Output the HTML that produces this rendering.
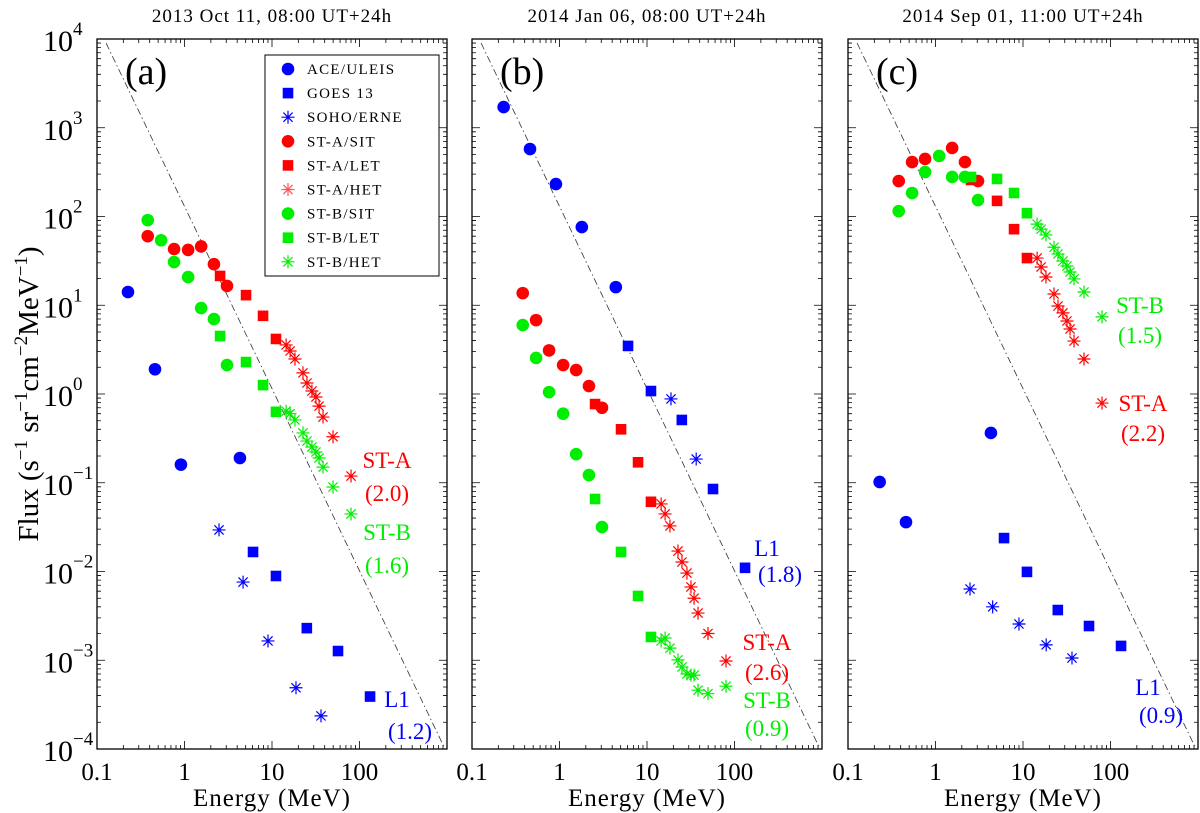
<!DOCTYPE html>
<html><head><meta charset="utf-8"><title>Energy spectra</title>
<style>
html,body{margin:0;padding:0;background:#fff;}
svg{display:block;}
svg text{font-family:"Liberation Serif","DejaVu Serif",serif;}
</style></head>
<body>
<svg id="chart" width="1200" height="813" viewBox="0 0 1200 813" xmlns="http://www.w3.org/2000/svg" font-family="Liberation Serif, DejaVu Serif, serif"></svg>
<script>
// ---------- DATA ----------
const panelTitles = ["2013 Oct 11, 08:00 UT+24h","2014 Jan 06, 08:00 UT+24h","2014 Sep 01, 11:00 UT+24h"];
const panelLetters = ["(a)","(b)","(c)"];
const xTickValues = [0.1,1,10,100];
const xTickLabels = ["0.1","1","10","100"];
const yTickExps = [-4,-3,-2,-1,0,1,2,3,4];
const refLineE = [0.127,950];
const refLineF = [9000,1e-4];

// panel (a)
const aAceE=[0.226,0.46,0.91,4.3];         const aAceF=[14.1,1.9,0.16,0.19];
const aGoesE=[6.07,11.1,25,56.8,132];      const aGoesF=[0.0166,0.0089,0.0023,0.00127,0.00039];
const aSohoE=[2.48,4.67,9.0,18.8,36.3];    const aSohoF=[0.0294,0.0076,0.00165,0.00049,0.000236];
const aSitAE=[0.38,0.76,1.1,1.55,2.17,3.06]; const aSitAF=[60,43,42,46,29,16.5];
const aLetAE=[2.55,5.05,7.9,11.1];         const aLetAF=[21.4,13.0,7.6,4.17];
const hetE=[14.5,16.1,18.3,22.6,25.1,28.6,31.8,34.5,38.3,49.8,80];
const aHetAF=[3.57,3.05,2.48,1.73,1.33,1.08,0.925,0.73,0.55,0.33,0.119];
const aSitBE=[0.38,0.54,0.76,1.1,1.55,2.17,3.06]; const aSitBF=[91,54,30.7,20.8,9.3,7.0,2.12];
const aLetBE=[2.55,5.05,7.9,11.1];         const aLetBF=[4.5,2.29,1.26,0.63];
const aHetBF=[0.64,0.60,0.51,0.364,0.295,0.253,0.222,0.19,0.15,0.0895,0.0445];

// panel (b)
const bAceE=[0.23,0.46,0.91,1.8,4.4];      const bAceF=[1710,576,232,76,16];
const bGoesE=[6.07,11.1,25,56.8,132];      const bGoesF=[3.48,1.08,0.51,0.085,0.011];
const bSohoE=[18.8,36.5];                  const bSohoF=[0.88,0.185];
const bSitAE=[0.38,0.54,0.76,1.1,1.55,2.17,3.06]; const bSitAF=[13.7,6.8,3.1,2.12,1.86,1.23,0.70];
const bLetAE=[2.55,5.05,7.9,11.1];         const bLetAF=[0.77,0.40,0.17,0.061];
const bHetAF=[0.0577,0.0445,0.0326,0.017,0.0128,0.0096,0.0067,0.0050,0.0034,0.0020,0.00098];
const bSitBE=[0.38,0.54,0.76,1.1,1.55,2.17,3.06]; const bSitBF=[5.98,2.55,1.05,0.60,0.21,0.122,0.0317];
const bLetBE=[2.55,5.05,7.9,11.1];         const bLetBF=[0.0656,0.0166,0.0053,0.00183];
const bHetBF=[0.00165,0.00178,0.00137,0.00101,0.00084,0.0007,0.00068,0.00068,0.00046,0.00042,0.00051];

// panel (c)
const cAceE=[0.23,0.46,4.3];               const cAceF=[0.102,0.036,0.364];
const cGoesE=[6.07,11.1,25,56.8,132];      const cGoesF=[0.0238,0.0099,0.00368,0.00243,0.00145];
const cSohoE=[2.48,4.5,9.0,18.4,36.3];     const cSohoF=[0.00635,0.004,0.00256,0.00149,0.00106];
const cSitAE=[0.38,0.54,0.76,1.55,2.17,3.06]; const cSitAF=[251,411,445,592,411,251];
const cLetAE=[2.55,5.05,7.9,11.1];         const cLetAF=[258,150,72,34];
const cHetAF=[34,27,20.8,13.4,9.8,8.2,6.65,5.4,3.95,2.48,0.79];
const cSitBE=[0.38,0.54,0.76,1.1,1.55,2.17,3.06]; const cSitBF=[115,184,317,481,279,279,153];
const cLetBE=[2.55,5.05,7.9,11.1];         const cLetBF=[279,265,184,109];
const cHetBF=[82,72,62,45,37.8,31.5,27.7,23.7,19.8,14.1,7.4];

// ---------- LAYOUT ----------
const NS="http://www.w3.org/2000/svg";
const svg=document.getElementById('chart');
const FONT='"Liberation Serif", "DejaVu Serif", serif';
const lefts=[97,472,848], PW=350, TOP=39, BOT=749;
const BLUE="#0000ff", RED="#ff0000", GREEN="#00ee00";
function xs(p,E){return lefts[p]+PW*(Math.log10(E)+1)/4;}
function ys(F){return BOT-(BOT-TOP)*(Math.log10(F)+4)/8;}
function mk(tag,attrs,parent){const e=document.createElementNS(NS,tag);for(const k in attrs)e.setAttribute(k,attrs[k]);if(tag==='text')e.style.fontFamily=FONT;(parent||svg).appendChild(e);return e;}

function drawMarker(g,type,x,y,color){
  let e;
  if(type==='circle'){e=mk('circle',{cx:x,cy:y,r:6.3,fill:color},g);}
  else if(type==='square'){e=mk('rect',{x:x-5.3,y:y-5.3,width:10.6,height:10.6,fill:color},g);}
  else{const r=6.5,d=4.6;e=mk('path',{d:`M${x-r},${y}H${x+r}M${x},${y-r}V${y+r}M${x-d},${y-d}L${x+d},${y+d}M${x-d},${y+d}L${x+d},${y-d}`,stroke:color,'stroke-width':1.2,fill:'none'},g);}
  return e;
}
function series(p,name,type,color,E,F){
  const g=mk('g',{});
  
  
  for(let i=0;i<E.length;i++){
    const m=drawMarker(g,type,xs(p,E[i]),ys(F[i]),color);
    
    
  }
}
function text(x,y,str,size,color,anchor,name,ls){
  const t=mk('text',{x:x,y:y,'font-size':size,fill:color||'#000','text-anchor':anchor||'start'});
  if(ls)t.setAttribute('letter-spacing',ls);
  t.textContent=str;
  
  
  return t;
}

for(let p=0;p<3;p++){
  const L=lefts[p],R=L+PW;
  const frame=mk('rect',{x:L,y:TOP,width:PW,height:BOT-TOP,fill:'none',stroke:'#000','stroke-width':1.3});
  
  
  let d='';
  for(let e=-4;e<4;e++){for(let m=1;m<10;m++){const y=ys(m*Math.pow(10,e));const len=m===1?8:4;d+=`M${L},${y}h${len}M${R},${y}h${-len}`;}}
  for(let e=-1;e<3;e++){for(let m=1;m<10;m++){const x=xs(p,m*Math.pow(10,e));const len=m===1?8:4;d+=`M${x},${BOT}v${-len}M${x},${TOP}v${len}`;}}
  const tk=mk('path',{d:d,stroke:'#000','stroke-width':0.8,fill:'none'});
  
  
  for(let i=0;i<xTickValues.length;i++){
    text(xs(p,xTickValues[i]),780,xTickLabels[i],25,'#000','middle','x-tick-label');
  }
  text(L+PW/2,806,'Energy (MeV)',25,'#000','middle','x-axis-title','1');
  text(L+PW/2,22,panelTitles[p],19,'#000','middle','panel-title','1');
  text(L+28,84,panelLetters[p],38,'#000','start','panel-letter');
  const rl=mk('line',{x1:xs(p,refLineE[0]),y1:ys(refLineF[0]),x2:xs(p,refLineE[1]),y2:ys(refLineF[1]),stroke:'#333','stroke-width':0.8,'stroke-dasharray':'7,3,1.5,3'});
  
  
}
for(let i=0;i<yTickExps.length;i++){
  const y=ys(Math.pow(10,yTickExps[i]));
  const t=mk('text',{x:73,y:y+12,'font-size':30,'text-anchor':'end'});
  t.textContent='10';
  
  
  const s=mk('text',{x:73,y:y-4,'font-size':19,'text-anchor':'start'});
  s.textContent=yTickExps[i]<0?('\u2212'+(-yTickExps[i])):String(yTickExps[i]);
  
  
}
const yt=mk('text',{x:0,y:0,'font-size':29,'text-anchor':'middle',transform:'translate(38,394) rotate(-90)'});


yt.innerHTML='Flux (s<tspan dy="-11" font-size="19">\u22121</tspan><tspan dy="11"> sr</tspan><tspan dy="-11" font-size="19">\u22121</tspan><tspan dy="11">cm</tspan><tspan dy="-11" font-size="19">\u22122</tspan><tspan dy="11">MeV</tspan><tspan dy="-11" font-size="19">\u22121</tspan><tspan dy="11">)</tspan>';

const P=[
 [aAceE,aAceF,aGoesE,aGoesF,aSohoE,aSohoF,aSitAE,aSitAF,aLetAE,aLetAF,aHetAF,aSitBE,aSitBF,aLetBE,aLetBF,aHetBF],
 [bAceE,bAceF,bGoesE,bGoesF,bSohoE,bSohoF,bSitAE,bSitAF,bLetAE,bLetAF,bHetAF,bSitBE,bSitBF,bLetBE,bLetBF,bHetBF],
 [cAceE,cAceF,cGoesE,cGoesF,cSohoE,cSohoF,cSitAE,cSitAF,cLetAE,cLetAF,cHetAF,cSitBE,cSitBF,cLetBE,cLetBF,cHetBF]];
for(let p=0;p<3;p++){
  const s=P[p];
  series(p,'ace-uleis','circle',BLUE,s[0],s[1]);
  series(p,'goes13','square',BLUE,s[2],s[3]);
  series(p,'soho-erne','star',BLUE,s[4],s[5]);
  series(p,'sta-sit','circle',RED,s[6],s[7]);
  series(p,'sta-let','square',RED,s[8],s[9]);
  series(p,'sta-het','star',RED,hetE,s[10]);
  series(p,'stb-sit','circle',GREEN,s[11],s[12]);
  series(p,'stb-let','square',GREEN,s[13],s[14]);
  series(p,'stb-het','star',GREEN,hetE,s[15]);
}

const lg=mk('g',{});


mk('rect',{x:265,y:55,width:174,height:221,fill:'#fff',stroke:'#000','stroke-width':1},lg);
const legNames=["ACE/ULEIS","GOES 13","SOHO/ERNE","ST-A/SIT","ST-A/LET","ST-A/HET","ST-B/SIT","ST-B/LET","ST-B/HET"];
const legTypes=['circle','square','star','circle','square','star','circle','square','star'];
const legColors=[BLUE,BLUE,BLUE,RED,RED,"#ff5555",GREEN,GREEN,GREEN];
for(let i=0;i<legNames.length;i++){
  const y=69+i*24.1;
  const m=drawMarker(lg,legTypes[i],288,y,legColors[i]);
  
  
  const t=mk('text',{x:307,y:y+5,'font-size':15,'letter-spacing':'1.3'},lg);
  t.textContent=legNames[i];
  
  
}

text(387,468,'ST-A',23,RED,'middle','annot-sta-a');
text(387,501,'(2.0)',23,RED,'middle','annot-sta-a-index');
text(387,540,'ST-B',23,GREEN,'middle','annot-stb-a');
text(387,573,'(1.6)',23,GREEN,'middle','annot-stb-a-index');
text(397,707,'L1',23,BLUE,'middle','annot-l1-a');
text(410,739,'(1.2)',23,BLUE,'middle','annot-l1-a-index');

text(767,556,'L1',23,BLUE,'middle','annot-l1-b');
text(780,582,'(1.8)',23,BLUE,'middle','annot-l1-b-index');
text(767,650,'ST-A',23,RED,'middle','annot-sta-b');
text(767,680,'(2.6)',23,RED,'middle','annot-sta-b-index');
text(767,708,'ST-B',23,GREEN,'middle','annot-stb-b');
text(767,736,'(0.9)',23,GREEN,'middle','annot-stb-b-index');

text(1140,313,'ST-B',23,GREEN,'middle','annot-stb-c');
text(1140,343,'(1.5)',23,GREEN,'middle','annot-stb-c-index');
text(1143,411,'ST-A',23,RED,'middle','annot-sta-c');
text(1143,441,'(2.2)',23,RED,'middle','annot-sta-c-index');
text(1148,695,'L1',23,BLUE,'middle','annot-l1-c');
text(1161,723,'(0.9)',23,BLUE,'middle','annot-l1-c-index');
</script>
</body></html>
